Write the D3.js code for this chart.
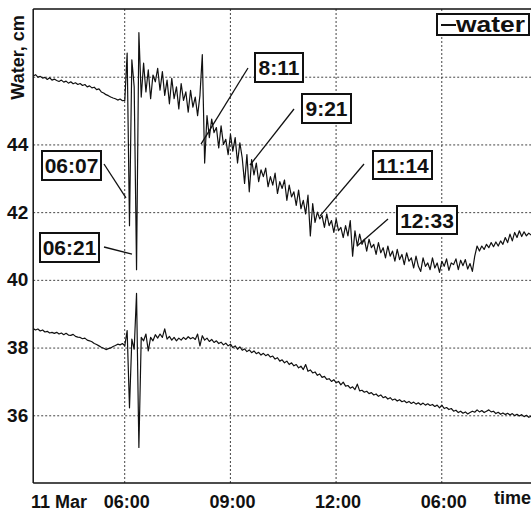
<!DOCTYPE html>
<html><head><meta charset="utf-8">
<script src="https://cdn.jsdelivr.net/npm/d3@7"></script>
<style>
html,body{margin:0;padding:0;background:#fff;}
svg{display:block;font-family:"Liberation Sans",Arial,Helvetica,sans-serif;font-weight:bold;}
</style>
</head><body>
<svg id="chart" width="531" height="511"></svg>
<script>
// ---- data ----
const startHour = 3 + 25 / 60;   // first sample (03:25)
const stepMinutes = 4;           // sampling interval

const upperWater = [
46.02,46.06,45.99,46.01,45.96,45.98,45.92,45.97,45.90,45.93,
45.89,45.86,45.90,45.84,45.87,45.81,45.85,45.79,45.82,45.77,
45.80,45.74,45.77,45.70,45.73,45.67,45.69,45.62,45.64,45.55,
45.52,45.47,45.44,45.40,45.37,45.35,45.31,45.34,45.29,45.30,
46.70,41.60,46.50,45.70,40.30,47.30,45.40,46.40,45.55,46.20,
45.35,46.05,45.85,46.25,45.60,46.15,45.45,45.90,45.20,45.95,
45.35,45.70,45.05,45.80,45.30,45.55,44.95,45.60,45.10,45.40,
44.85,45.45,46.65,43.45,44.85,44.20,44.75,44.35,44.50,43.90,
44.55,44.00,44.15,43.70,44.30,43.80,44.20,43.45,44.05,43.60,
42.85,43.70,42.60,43.55,43.10,43.45,42.90,43.25,43.05,43.30,
42.75,43.05,42.80,43.15,42.55,42.90,42.70,42.95,42.35,42.80,
42.45,42.60,42.20,42.65,42.10,42.35,41.95,42.50,41.30,42.25,
41.70,42.00,41.80,41.90,41.55,41.95,41.60,41.75,41.40,41.80,
41.45,41.55,41.25,41.60,41.30,41.75,40.70,41.45,41.00,41.35,
41.05,41.20,40.85,41.20,40.95,41.05,40.75,41.10,40.80,40.95,
40.65,41.00,40.70,40.85,40.55,40.90,40.60,40.75,40.45,40.80,
40.55,40.65,40.35,40.70,40.40,40.25,40.65,40.40,40.50,40.30,
40.65,40.35,40.50,40.22,40.55,40.40,40.62,40.28,40.50,40.45,
40.62,40.30,40.58,40.42,40.60,40.32,40.48,40.25,40.70,41.00,
40.85,41.00,40.90,41.05,40.95,41.10,40.98,41.12,41.00,41.15,
41.05,41.25,41.10,41.35,41.15,41.40,41.25,41.45,41.28,41.42,
41.30,41.38,41.32
];

const lowerWater = [
38.56,38.52,38.55,38.49,38.52,38.46,38.48,38.43,38.45,38.42,
38.45,38.40,38.43,38.38,38.42,38.37,38.36,38.39,38.33,38.31,
38.30,38.26,38.28,38.22,38.20,38.17,38.12,38.09,38.05,38.01,
37.98,37.94,37.97,37.99,38.03,38.06,38.10,38.08,38.12,38.05,
38.50,36.22,38.25,37.95,39.60,35.05,38.30,38.20,38.40,37.90,
38.30,38.20,38.38,38.28,38.40,38.30,38.55,38.25,38.33,38.22,
38.30,38.20,38.28,38.22,38.30,38.24,38.32,38.26,38.30,38.24,
38.40,38.05,38.35,38.22,38.28,38.18,38.24,38.15,38.20,38.12,
38.16,38.08,38.13,38.05,38.10,38.00,38.05,37.95,38.02,37.92,
37.96,37.88,37.93,37.85,37.90,37.82,37.86,37.78,37.83,37.76,
37.80,37.72,37.75,37.66,37.70,37.60,37.64,37.55,37.60,37.50,
37.55,37.46,37.50,37.40,37.45,37.35,37.50,37.30,37.34,37.25,
37.28,37.18,37.22,37.12,37.15,37.06,37.08,37.00,37.05,36.96,
37.00,36.90,36.98,36.86,36.88,36.80,36.84,36.76,36.92,36.72,
36.74,36.68,36.71,36.64,36.67,36.60,36.63,36.56,36.60,36.52,
36.55,36.48,36.52,36.45,36.48,36.42,36.46,36.40,36.43,36.37,
36.41,36.35,36.39,36.33,36.37,36.31,36.36,36.30,36.34,36.29,
36.32,36.26,36.30,36.22,36.30,36.20,36.23,36.17,36.20,36.12,
36.15,36.08,36.12,36.06,36.10,36.04,36.08,36.12,36.09,36.16,
36.10,36.14,36.08,36.12,36.16,36.10,36.12,36.05,36.09,36.03,
36.07,36.02,36.06,36.01,36.05,35.99,36.03,35.98,36.02,35.96,
36.00,35.94,35.97
];

const xTickValues = [6, 9, 12, 15];
const xTickLabels = ["06:00", "09:00", "12:00", "06:00"];
const dateLabel = "11 Mar";
const xAxisTitle = "time";
const yTickValues = [36, 38, 40, 42, 44, 46];
const yTickLabels = ["36", "38", "40", "42", "44", ""];
const yAxisTitle = "Water, cm";
const seriesName = "water";

// annotations: label, target hour, target value (where the leader points)
const annoLabels = ["06:07", "06:21", "8:11", "9:21", "11:14", "12:33"];
const annoHours  = [6.05, 6.22, 8.18, 9.57, 11.56, 12.61];
const annoValues = [42.42, 40.76, 44.01, 43.39, 41.89, 41.00];

// ---- layout ----
const plot = { left: 33.2, right: 531, top: 9, bottom: 483 };
// box layout for annotations: [left, top, width, height, leaderStartX, leaderStartY]
const annoBoxes = [
  [42, 151, 59, 29, 104, 164],
  [40, 233, 59, 29, 104, 247],
  [255, 53, 48, 29, 248, 68],
  [302, 94, 49, 29, 294, 109],
  [373, 151, 59, 28, 364, 164],
  [397, 206, 60, 28, 388, 219]
];

const svg = d3.select("#chart");

const x = d3.scaleLinear().domain([startHour, 17.547]).range([plot.left, plot.right]);
const y = d3.scaleLinear().domain([34, 48]).range([plot.bottom, plot.top]);

const hourOf = i => startHour + i * stepMinutes / 60;
const fontFam = '"Liberation Sans",Arial,sans-serif';

// grid + y axis
const yAxis = d3.axisLeft(y)
  .tickValues(yTickValues)
  .tickSize(-(plot.right - plot.left))
  .tickPadding(5)
  .tickFormat((d, i) => yTickLabels[i]);
const gy = svg.append("g").attr("transform", `translate(${plot.left},0)`).call(yAxis);
gy.select(".domain").remove();
gy.selectAll(".tick line").attr("stroke", "#444").attr("stroke-dasharray", "2,2").attr("stroke-width", 1);
gy.selectAll(".tick text").attr("fill", "#111").style("font-size", "19px").style("font-weight", "bold")
  .style("font-family", fontFam);

// grid + x axis
const xAxis = d3.axisBottom(x)
  .tickValues(xTickValues)
  .tickSize(-(plot.bottom - plot.top))
  .tickPadding(12)
  .tickFormat((d, i) => xTickLabels[i]);
const gx = svg.append("g").attr("transform", `translate(0,${plot.bottom})`).call(xAxis);
gx.select(".domain").remove();
gx.selectAll(".tick line").attr("stroke", "#444").attr("stroke-dasharray", "2,2").attr("stroke-width", 1);
gx.selectAll(".tick text").attr("fill", "#111").attr("dx", 2).style("font-size", "18px").style("font-weight", "bold")
  .style("font-family", fontFam);

// frame lines
svg.append("line").attr("x1", plot.left).attr("x2", plot.left).attr("y1", plot.top).attr("y2", plot.bottom)
  .attr("stroke", "#111").attr("stroke-width", 1.5);
svg.append("line").attr("x1", plot.left).attr("x2", plot.right).attr("y1", plot.top).attr("y2", plot.top)
  .attr("stroke", "#111").attr("stroke-width", 1.5);
svg.append("line").attr("x1", plot.left).attr("x2", plot.right).attr("y1", plot.bottom).attr("y2", plot.bottom)
  .attr("stroke", "#111").attr("stroke-width", 1.5);

// clip
svg.append("clipPath").attr("id", "clip").append("rect")
  .attr("x", plot.left).attr("y", plot.top).attr("width", plot.right - plot.left).attr("height", plot.bottom - plot.top);

const line = d3.line().x((d, i) => x(hourOf(i))).y(d => y(d));
const gl = svg.append("g").attr("clip-path", "url(#clip)");
[upperWater, lowerWater].forEach(s => {
  gl.append("path").datum(s).attr("d", line)
    .attr("fill", "none").attr("stroke", "#111").attr("stroke-width", 1.2).attr("stroke-linejoin", "round");
});

// axis titles
svg.append("text").attr("x", 31).attr("y", 508).attr("fill", "#111").style("font-size", "18px").text(dateLabel);
svg.append("text").attr("x", 531).attr("y", 504).attr("text-anchor", "end").attr("fill", "#111").style("font-size", "18px").text(xAxisTitle);
svg.append("text").attr("transform", "translate(24,57.5) rotate(-90)").attr("text-anchor", "middle")
  .attr("fill", "#111").style("font-size", "18px").text(yAxisTitle);

// legend
const lg = svg.append("g");
lg.append("rect").attr("x", 437).attr("y", 14).attr("width", 92).attr("height", 21)
  .attr("fill", "#fff").attr("stroke", "#111").attr("stroke-width", 2);
lg.append("line").attr("x1", 441).attr("x2", 456).attr("y1", 25).attr("y2", 25).attr("stroke", "#111").attr("stroke-width", 2);
lg.append("text").attr("x", 456).attr("y", 31.5).attr("fill", "#111").style("font-size", "22px")
  .attr("textLength", 69).attr("lengthAdjust", "spacingAndGlyphs").text(seriesName);

// annotations
const ga = svg.append("g");
annoLabels.forEach((lab, i) => {
  const [bx, by, bw, bh, lx, ly] = annoBoxes[i];
  ga.append("line").attr("x1", lx).attr("y1", ly).attr("x2", x(annoHours[i])).attr("y2", y(annoValues[i]))
    .attr("stroke", "#111").attr("stroke-width", 1.3);
  ga.append("rect").attr("x", bx).attr("y", by).attr("width", bw).attr("height", bh)
    .attr("fill", "#fff").attr("stroke", "#111").attr("stroke-width", 2);
  ga.append("text").attr("x", bx + bw / 2).attr("y", by + bh / 2).attr("dy", "0.36em")
    .attr("text-anchor", "middle").attr("fill", "#111").style("font-size", "21px").text(lab);
});
</script>
</body></html>
